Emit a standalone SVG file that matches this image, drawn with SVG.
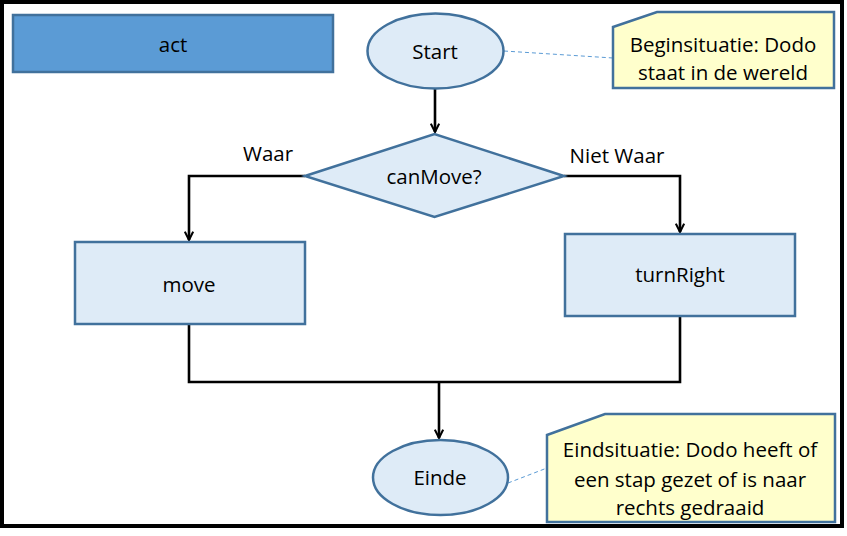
<svg xmlns="http://www.w3.org/2000/svg" width="847" height="536" viewBox="0 0 847 536">
<style>
text{font-family:"Open Sans","Liberation Sans",sans-serif;font-size:20.5px;fill:#000;text-anchor:middle;dominant-baseline:central}
.node{fill:#DEEBF7;stroke:#41719C;stroke-width:2.5}
.note{fill:#FFFFCC;stroke:#41719C;stroke-width:2.5}
.conn{fill:none;stroke:#000;stroke-width:2.6}
.dash{fill:none;stroke:#5B9BD5;stroke-width:1;stroke-dasharray:4 3}
</style>
<defs>
<marker id="arr" viewBox="0 0 10 10" refX="9" refY="5" markerWidth="4" markerHeight="4" orient="auto" markerUnits="strokeWidth">
<path d="M1,1 L9,5 L1,9" fill="none" stroke="#000" stroke-width="2"/>
</marker>
</defs>
<rect x="2" y="2" width="840" height="524" fill="#fff" stroke="#000" stroke-width="4"/>
<g id="act"><rect x="13" y="15" width="320" height="57" fill="#5B9BD5" stroke="#41719C" stroke-width="2.5"/><text x="173" y="44">act</text></g>
<g id="connectors">
<path class="conn" d="M435,89 V132" marker-end="url(#arr)"/>
<path class="conn" d="M305,176 H189 V240" marker-end="url(#arr)"/>
<path class="conn" d="M564,176 H680 V232" marker-end="url(#arr)"/>
<path class="conn" d="M189,324 V382 H680 V316"/>
<path class="conn" d="M439,382 V438" marker-end="url(#arr)"/>
<path class="dash" d="M504,51 L613,58"/>
<path class="dash" d="M508,483 L547,468"/>
<text x="268" y="153">Waar</text>
<text x="617" y="155">Niet Waar</text>
</g>
<g id="start"><ellipse class="node" cx="435.5" cy="51" rx="68" ry="37.5"/><text x="435" y="51">Start</text></g>
<g id="note1"><path class="note" d="M613,27 L657,12 H834 V88 H613 Z"/><text x="723" y="44">Beginsituatie: Dodo</text><text x="723" y="72">staat in de wereld</text></g>
<g id="decision"><path class="node" d="M305,176 L434.5,134 L564,176 L434.5,217 Z"/><text x="434" y="176">canMove?</text></g>
<g id="move"><rect class="node" x="75" y="242" width="230" height="82"/><text x="189" y="284">move</text></g>
<g id="turnRight"><rect class="node" x="565" y="234" width="230" height="82"/><text x="680" y="274">turnRight</text></g>
<g id="einde"><ellipse class="node" cx="440.5" cy="477.5" rx="67.5" ry="37.5"/><text x="440" y="477">Einde</text></g>
<g id="note2"><path class="note" d="M547,435 L605,414 H835 V522 H547 Z"/><text x="690" y="449">Eindsituatie: Dodo heeft of</text><text x="690" y="479">een stap gezet of is naar</text><text x="690" y="507">rechts gedraaid</text></g>
</svg>
